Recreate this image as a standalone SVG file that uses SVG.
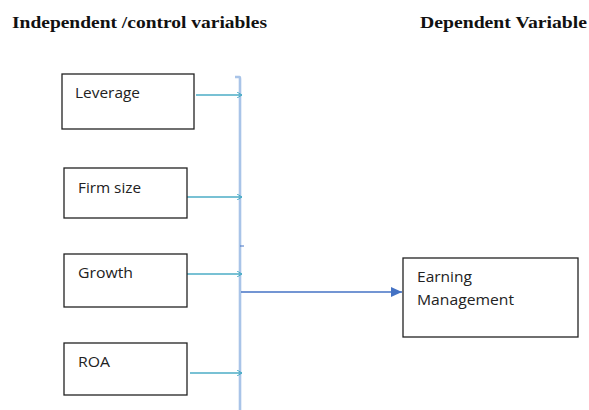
<svg xmlns="http://www.w3.org/2000/svg" width="589" height="410" viewBox="0 0 589 410">
<defs>
<marker id="ah" markerWidth="6" markerHeight="6" refX="5" refY="3" orient="auto" markerUnits="userSpaceOnUse">
<path d="M0,0 L5,3 L0,6" fill="none" stroke="#4bacc6" stroke-width="1"/>
</marker>
<marker id="ahb" markerWidth="12" markerHeight="10" refX="11" refY="5" orient="auto" markerUnits="userSpaceOnUse">
<path d="M0,0 L11,5 L0,10 Z" fill="#4472c4"/>
</marker>
</defs>
<style>
.hdr{font-family:"Liberation Serif","Times New Roman",serif;font-weight:bold;font-size:17px;fill:#111}
.box{fill:#fff;stroke:#222;stroke-width:1.3}
.lbl{font-family:"Open Sans","Liberation Sans",sans-serif;font-size:14px;fill:#222}
.c{stroke:#4bacc6;stroke-width:1.3;fill:none}
</style>
<rect width="589" height="410" fill="#fff"/>
<text class="hdr" x="12" y="28" textLength="255" lengthAdjust="spacingAndGlyphs">Independent /control variables</text>
<text class="hdr" x="420" y="28" textLength="167" lengthAdjust="spacingAndGlyphs">Dependent Variable</text>
<g id="connectors">
<path d="M235,77 L239.5,77 Q240,77 240,79 L240,410" stroke="#a9c4e8" stroke-width="2.6" fill="none"/>
<line class="c" x1="196" y1="95" x2="242" y2="95" marker-end="url(#ah)"/>
<line class="c" x1="187" y1="197" x2="242" y2="197" marker-end="url(#ah)"/>
<line class="c" x1="183" y1="274" x2="242" y2="274" marker-end="url(#ah)"/>
<line class="c" x1="190" y1="373" x2="242" y2="373" marker-end="url(#ah)"/>
<line x1="240" y1="246" x2="244" y2="246" stroke="#4472c4" stroke-width="1"/>
<line x1="241" y1="292" x2="402" y2="292" stroke="#4472c4" stroke-width="1.3" marker-end="url(#ahb)"/>
</g>
<g id="leverage">
<rect class="box" x="62" y="74" width="132" height="55"/>
<text class="lbl" x="75" y="98" textLength="65" lengthAdjust="spacingAndGlyphs">Leverage</text>
</g>
<g id="firmsize">
<rect class="box" x="64" y="168" width="123" height="50"/>
<text class="lbl" x="78" y="193" textLength="63" lengthAdjust="spacingAndGlyphs">Firm size</text>
</g>
<g id="growth">
<rect class="box" x="64" y="254" width="123" height="53"/>
<text class="lbl" x="78" y="278" textLength="55" lengthAdjust="spacingAndGlyphs">Growth</text>
</g>
<g id="roa">
<rect class="box" x="64" y="343" width="123" height="52"/>
<text class="lbl" x="78" y="367" textLength="32" lengthAdjust="spacingAndGlyphs">ROA</text>
</g>
<g id="earning">
<rect class="box" x="403" y="258" width="175" height="79"/>
<text class="lbl" x="417" y="282" textLength="55" lengthAdjust="spacingAndGlyphs">Earning</text>
<text class="lbl" x="417" y="305" textLength="97" lengthAdjust="spacingAndGlyphs">Management</text>
</g>
</svg>
